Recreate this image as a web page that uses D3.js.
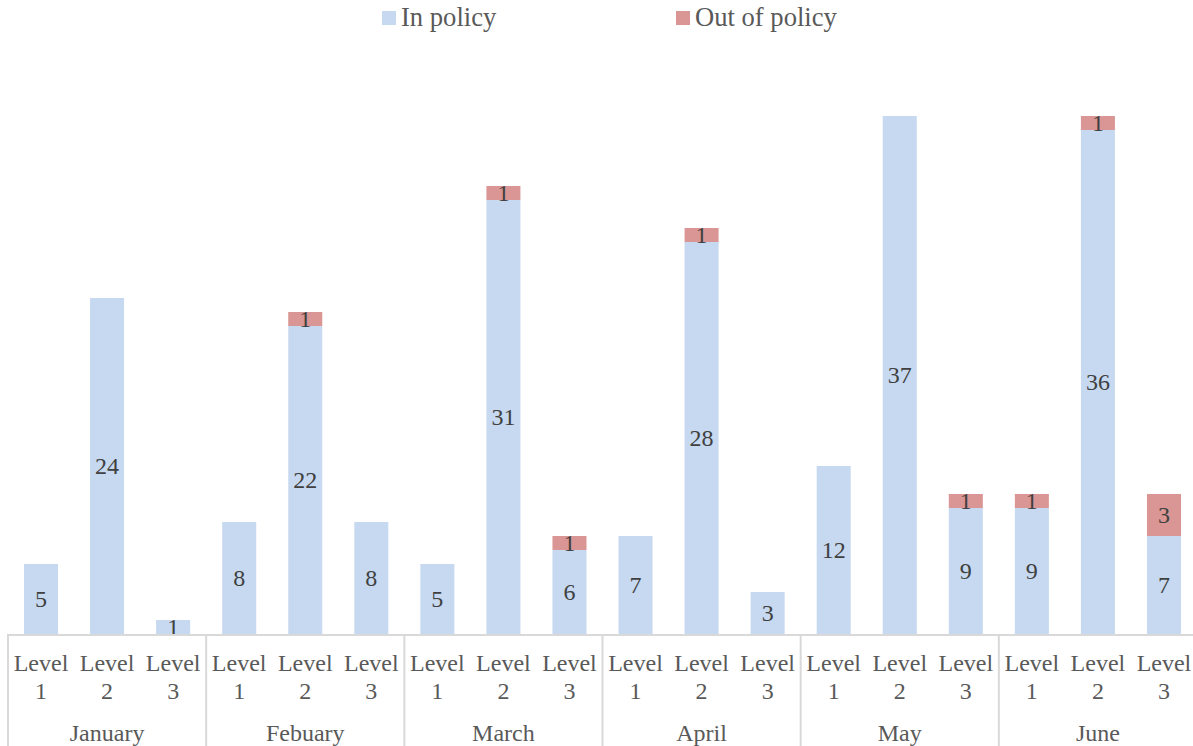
<!DOCTYPE html>
<html><head><meta charset="utf-8">
<script src="https://cdn.jsdelivr.net/npm/d3@7"></script>
<style>body{margin:0;background:#fff}svg{display:block}</style>
</head><body>
<svg id="c" width="1193" height="746"></svg>
<script>
const months = ["January","Febuary","March","April","May","June"];
const levels = ["Level 1","Level 2","Level 3"];
const inPolicy  = [5,24,1, 8,22,8, 5,31,6, 7,28,3, 12,37,9, 9,36,7];
const outPolicy = [0,0,0, 0,1,0, 0,1,1, 0,1,0, 0,0,1, 1,1,3];
const seriesNames = ["In policy","Out of policy"];
const colors = ["#c6d9f0","#d99694"];

const rows = [];
months.forEach((m,i)=>levels.forEach((l,j)=>{
  const k=i*3+j; rows.push({key:m+"|"+l, month:m, level:l, a:inPolicy[k], b:outPolicy[k]});
}));

const svg = d3.select("#c");
const left=8, right=1197, base=634;
const x = d3.scaleBand().domain(rows.map(d=>d.key)).range([left,right])
  .paddingInner(32/66).paddingOuter(16/66);
const y = d3.scaleLinear().domain([0,45]).range([base, base-45*14]);

const font = "Liberation Serif";

const g = svg.append("g");
rows.forEach(d=>{
  const segs=[{v:d.a,y0:0,c:colors[0]},{v:d.b,y0:d.a,c:colors[1]}];
  segs.forEach(s=>{
    if(!s.v) return;
    g.append("rect").attr("x",x(d.key)).attr("width",x.bandwidth())
      .attr("y",y(s.y0+s.v)).attr("height",y(s.y0)-y(s.y0+s.v)).attr("fill",s.c);
    g.append("text").attr("x",x(d.key)+x.bandwidth()/2)
      .attr("y",(y(s.y0)+y(s.y0+s.v))/2).attr("dy","0.33em")
      .attr("text-anchor","middle").style("font-family",font).style("font-size","24px")
      .attr("fill","#404040").text(s.v);
  });
});

svg.append("line").attr("x1",left).attr("x2",right).attr("y1",base+1).attr("y2",base+1)
  .attr("stroke","#d9d9d9").attr("stroke-width",2);
const step = x.step();
for(let i=0;i<=months.length;i++){
  const xx = left + i*3*step;
  svg.append("line").attr("x1",xx).attr("x2",xx).attr("y1",base).attr("y2",746)
    .attr("stroke","#d9d9d9").attr("stroke-width",2);
}
rows.forEach(d=>{
  const cx = x(d.key)+x.bandwidth()/2;
  const parts = d.level.split(" ");
  const t = svg.append("text").attr("x",cx).attr("text-anchor","middle")
    .style("font-family",font).style("font-size","24px").attr("fill","#595959");
  t.append("tspan").attr("x",cx).attr("y",671).text(parts[0]);
  t.append("tspan").attr("x",cx).attr("y",699).text(parts[1]);
});
months.forEach((m,i)=>{
  svg.append("text").attr("x",left+(i*3+1.5)*step).attr("y",741)
    .attr("text-anchor","middle").style("font-family",font).style("font-size","24px")
    .attr("fill","#595959").text(m);
});

const legX=[382,676];
seriesNames.forEach((n,i)=>{
  svg.append("rect").attr("x",legX[i]).attr("y",11).attr("width",14).attr("height",14).attr("fill",colors[i]);
  svg.append("text").attr("x",legX[i]+19).attr("y",26).style("font-family",font)
    .style("font-size","26.6px").attr("fill","#595959").text(n);
});
</script>
</body></html>
